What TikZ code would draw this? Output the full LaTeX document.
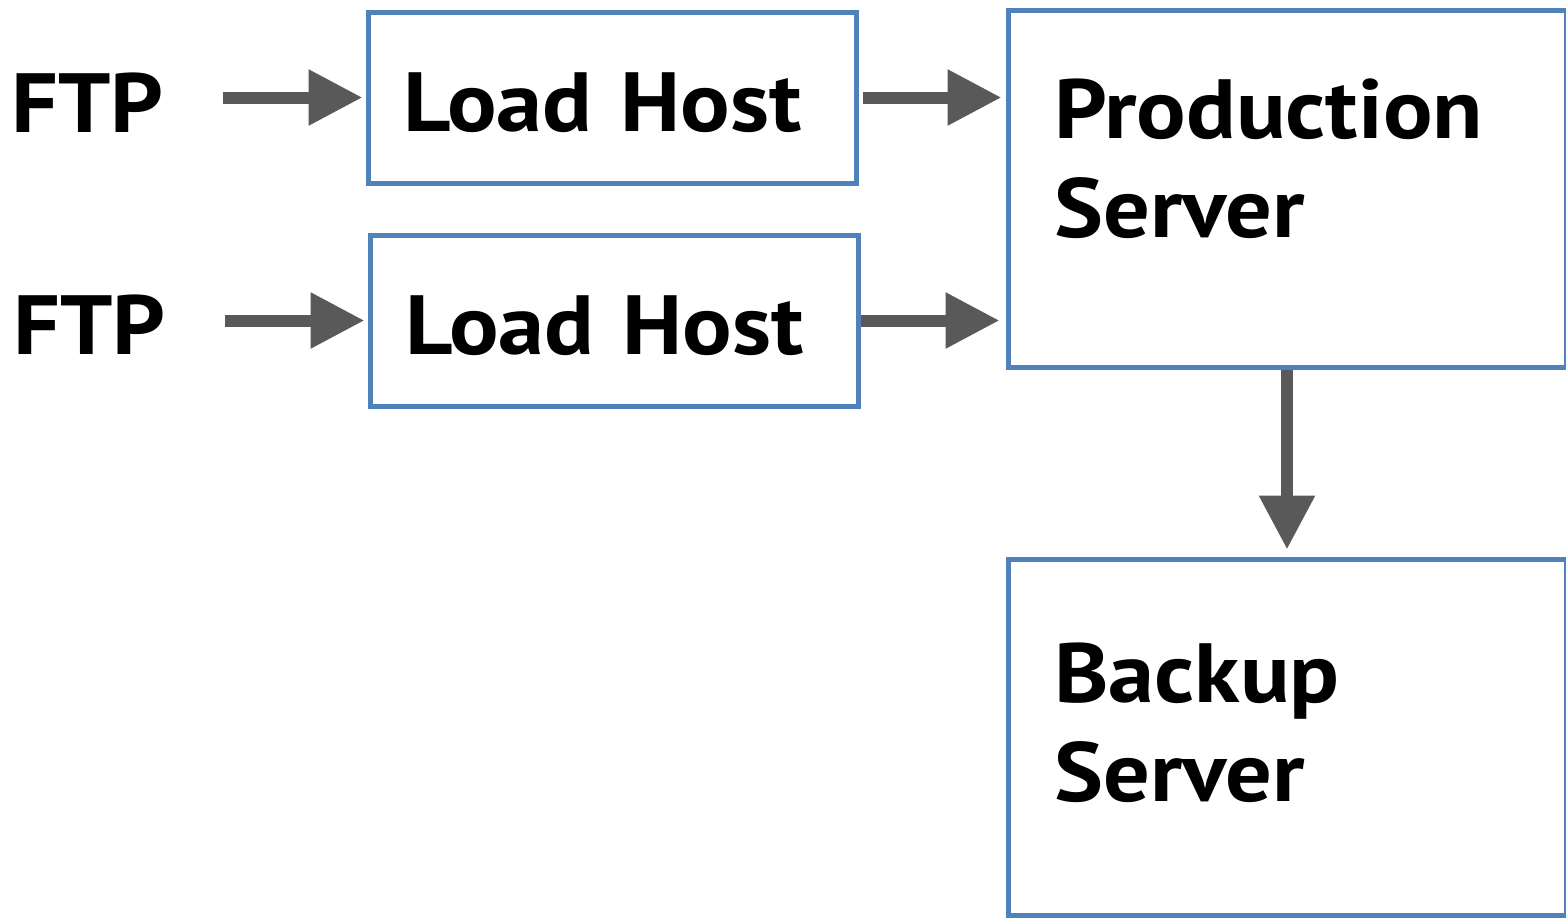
\documentclass[tikz,border=0pt]{standalone}
\usepackage{fontspec}
\setmainfont{PT Sans}[FakeStretch=1.1]
\usetikzlibrary{arrows.meta,shadows}
\definecolor{boxblue}{HTML}{4F81BD}
\definecolor{arrgray}{HTML}{595959}
\begin{document}
\begin{tikzpicture}[x=1pt,y=-1pt,
  txt/.style={font=\fontsize{84}{99}\selectfont\bfseries, inner sep=0pt, align=left},
  box/.style={draw=boxblue, line width=5pt, fill=white,
    drop shadow={shadow xshift=0pt,shadow yshift=-3pt,fill=black,opacity=0.2}},
  hostbox/.style={box, minimum height=171pt, text width=418pt, inner xsep=35pt,
    inner ysep=0pt, align=left, text height=68pt, text depth=0pt,
    font=\fontsize{84}{99}\selectfont\bfseries},
  srvbox/.style={box, minimum width=558pt, inner sep=0pt},
  arr/.style={draw=arrgray, line width=12pt, -{Triangle[length=54pt,width=53pt]}}
]
\useasboundingbox (0,0) rectangle (1566,919);
\node[hostbox] (lh1) at (612,97.5) {Load Host};
\node[hostbox] (lh2) at (614,320.5) {Load Host};
\node[srvbox, minimum height=357pt] (prod) at (1287,188.5) {};
\node[srvbox, minimum height=356pt] (backup) at (1287,737) {};
\node[txt, anchor=base west] (ftp1) at (11,132) {FTP};
\node[txt, anchor=base west] (ftp2) at (13,354) {FTP};
\node[txt, anchor=base west] (prodtxt) at (1054,237) {Production\\Server};
\node[txt, anchor=base west] (backtxt) at (1054,801) {Backup\\Server};
\draw[arr, shorten <=59pt, shorten >=3pt] (ftp1.east |- lh1.west) -- (lh1.west);
\draw[arr, shorten <=59pt, shorten >=3pt] (ftp2.east |- lh2.west) -- (lh2.west);
\draw[arr, shorten <=4pt, shorten >=4pt] (lh1.east) -- (lh1.east -| prod.west);
\draw[arr, shorten >=6pt] (lh2.east) -- (lh2.east -| prod.west);
\draw[arr, shorten >=7pt] (prod.south) -- (backup.north);
\end{tikzpicture}
\end{document}
